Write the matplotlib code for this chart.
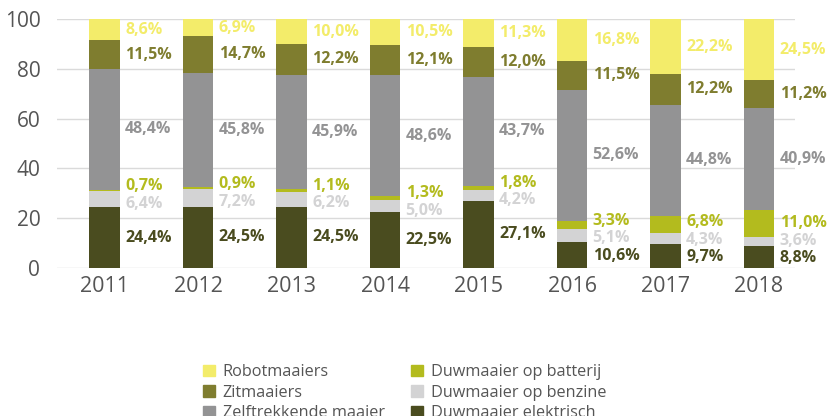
import numpy as np
import matplotlib
matplotlib.use("Agg")
from matplotlib import pyplot as plt
from matplotlib.patches import Patch

plt.rcParams['font.family'] = ['Open Sans', 'DejaVu Sans']

years = ["2011", "2012", "2013", "2014", "2015", "2016", "2017", "2018"]

# segments from bottom to top
elektrisch = [24.4, 24.5, 24.5, 22.5, 27.1, 10.6, 9.7, 8.8]
benzine = [6.4, 7.2, 6.2, 5.0, 4.2, 5.1, 4.3, 3.6]
batterij = [0.7, 0.9, 1.1, 1.3, 1.8, 3.3, 6.8, 11.0]
zelftrekkend = [48.4, 45.8, 45.9, 48.6, 43.7, 52.6, 44.8, 40.9]
zitmaaiers = [11.5, 14.7, 12.2, 12.1, 12.0, 11.5, 12.2, 11.2]
robotmaaiers = [8.6, 6.9, 10.0, 10.5, 11.3, 16.8, 22.2, 24.5]

series = [
    ("Duwmaaier elektrisch", elektrisch, "#4a4c1f"),
    ("Duwmaaier op benzine", benzine, "#d3d3d4"),
    ("Duwmaaier op batterij", batterij, "#b3bb1e"),
    ("Zelftrekkende maaier", zelftrekkend, "#939394"),
    ("Zitmaaiers", zitmaaiers, "#7f7d2f"),
    ("Robotmaaiers", robotmaaiers, "#f3ec6a"),
]

fig = plt.figure(figsize=(8.27, 4.16), dpi=100)
ax = fig.add_axes([57 / 827, 1 - 268 / 416, 738 / 827, 249 / 416])

x = np.arange(len(years))
width = 0.33
bottom = np.zeros(len(years))
centers = []
for name, vals, col in series:
    vals = np.array(vals)
    ax.bar(x, vals, width, bottom=bottom, color=col, zorder=2)
    centers.append(bottom + vals / 2)
    bottom = bottom + vals

# label positions: start at segment centres, push close neighbours apart
centers = np.array(centers)
ypos = centers.copy()
min_gap = 7.0
for j in range(len(years)):
    for _ in range(20):
        for i in range(len(series) - 1):
            gap = ypos[i + 1, j] - ypos[i, j]
            if gap < min_gap:
                shift = (min_gap - gap) / 2
                ypos[i, j] -= shift
                ypos[i + 1, j] += shift

for i, (name, vals, col) in enumerate(series):
    for j in range(len(years)):
        ax.text(x[j] + width / 2 + 0.055, ypos[i, j],
                ("%.1f%%" % vals[j]).replace(".", ","),
                color=col, fontsize=11.5, fontweight="bold",
                va="center", ha="left", zorder=3)

ax.set_xlim(-0.508, 7.385)
ax.set_ylim(0, 100)
ax.set_yticks([0, 20, 40, 60, 80, 100])
ax.set_xticks(x)
ax.set_xticklabels(years)
ax.yaxis.grid(True, color="#dadada", linewidth=1, zorder=0)
ax.set_axisbelow(True)
for s in ax.spines.values():
    s.set_visible(False)
ax.tick_params(axis="both", length=0, colors="#555555")
ax.tick_params(axis="y", labelsize=15, pad=12)
ax.tick_params(axis="x", labelsize=15.5, pad=6)

handles = [Patch(color=s[2], label=s[0]) for s in
           [series[5], series[4], series[3], series[2], series[1], series[0]]]
leg = fig.legend(handles=handles, loc="upper left", ncol=2,
                 bbox_to_anchor=(203 / 827, 1 - 364 / 416),
                 frameon=False, borderpad=0, borderaxespad=0,
                 handlelength=0.72, handleheight=0.72, handletextpad=0.5,
                 labelspacing=0.28, columnspacing=1.6, fontsize=11.7)
for t in leg.get_texts():
    t.set_color("#555555")

fig.savefig("out.png", dpi=100)
